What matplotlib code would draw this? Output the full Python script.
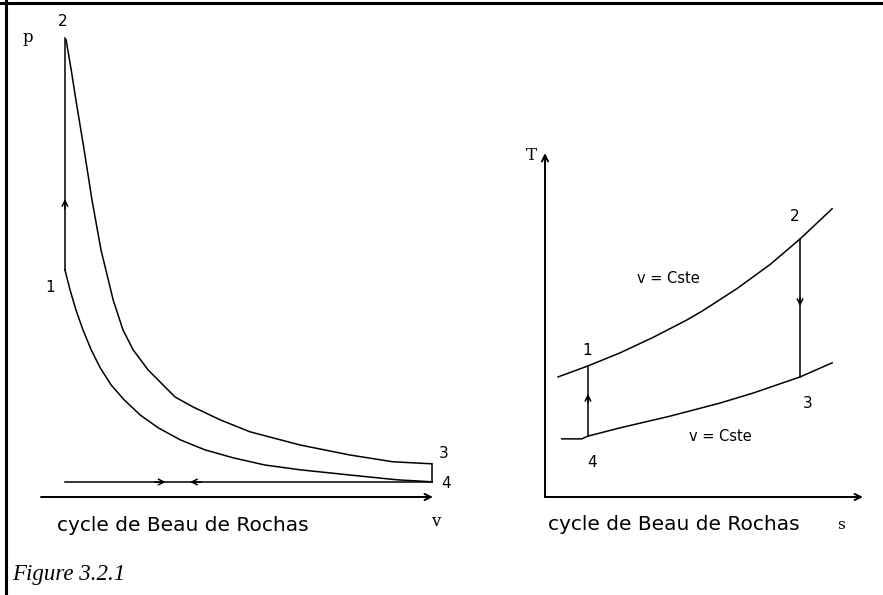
import matplotlib.pyplot as plt
from matplotlib.lines import Line2D

# --- p-v diagram (sketch units: v 0..10, p 0..12) ---
v_exp = [0.64, 0.77, 0.89, 1.10, 1.30, 1.53, 1.84, 2.09, 2.35, 2.73, 3.42,
         3.88, 4.57, 5.33, 6.61, 7.88, 8.98, 9.97]
p_exp = [11.43, 10.68, 9.93, 8.68, 7.43, 6.18, 4.93, 4.18, 3.68, 3.18, 2.50,
         2.25, 1.93, 1.63, 1.30, 1.05, 0.88, 0.83]
v_comp = [0.61, 0.74, 0.89, 1.07, 1.28, 1.51, 1.79, 2.12, 2.53, 2.99, 3.55,
          4.18, 4.90, 5.71, 6.61, 7.88, 9.08, 9.97]
p_comp = [5.68, 5.18, 4.68, 4.18, 3.68, 3.23, 2.80, 2.43, 2.05, 1.73, 1.43,
          1.18, 0.98, 0.80, 0.68, 0.55, 0.43, 0.38]
v_12 = [0.61, 0.61]
p_12 = [5.68, 11.48]
v_34 = [9.97, 9.97]
p_34 = [0.83, 0.38]
v_41 = [0.61, 9.97]
p_41 = [0.375, 0.375]

# --- T-s diagram (sketch units: s 0..10, T 0..10) ---
s_up = [0.41, 1.35, 2.36, 3.40, 4.47, 4.97, 6.04, 7.08, 8.02, 9.03]
T_up = [3.49, 3.81, 4.19, 4.64, 5.15, 5.42, 6.06, 6.76, 7.50, 8.38]
s_low = [0.53, 1.16, 1.35, 2.36, 3.93, 5.50, 6.54, 8.02, 9.03]
T_low = [1.69, 1.69, 1.77, 2.01, 2.35, 2.73, 3.02, 3.49, 3.90]
s_14 = [1.35, 1.35]
T_14 = [1.77, 3.81]
s_23 = [8.02, 8.02]
T_23 = [7.50, 3.49]

caption = 'cycle de Beau de Rochas'
W, H = 883, 595
lw = 1.1

fig = plt.figure(figsize=(W / 100, H / 100), dpi=100)

# frame of the scanned figure (top and left edges)
fig.add_artist(Line2D([0, 1], [1 - 2.5 / H, 1 - 2.5 / H], color='black', lw=2.2))
fig.add_artist(Line2D([6 / W, 6 / W], [0, 1], color='black', lw=2.2))

head = '->,head_length=0.45,head_width=0.22'
small = '->,head_length=0.4,head_width=0.2'


def axis_arrows(ax, xmax, ymax):
    ax.annotate('', xy=(xmax, 0), xytext=(0, 0),
                arrowprops=dict(arrowstyle=head, lw=1.4, color='black',
                                shrinkA=0, shrinkB=0))
    ax.annotate('', xy=(0, ymax), xytext=(0, 0),
                arrowprops=dict(arrowstyle=head, lw=1.4, color='black',
                                shrinkA=0, shrinkB=0))


def mid_arrow(ax, x0, y0, x1, y1):
    ax.annotate('', xy=(x1, y1), xytext=(x0, y0),
                arrowprops=dict(arrowstyle=small, lw=lw, color='black',
                                shrinkA=0, shrinkB=0))


# left: p-v
ax1 = fig.add_axes([41 / W, 98 / H, 392 / W, 480 / H])
ax1.set_xlim(0, 10)
ax1.set_ylim(0, 12)
ax1.axis('off')
axis_arrows(ax1, 10, 12.05)
ax1.plot(v_exp, p_exp, 'k-', lw=lw)
ax1.plot(v_comp, p_comp, 'k-', lw=lw)
ax1.plot(v_12, p_12, 'k-', lw=lw)
ax1.plot(v_34, p_34, 'k-', lw=lw)
ax1.plot(v_41, p_41, 'k-', lw=lw)
mid_arrow(ax1, 0.61, 7.2, 0.61, 7.45)
mid_arrow(ax1, 2.9, 0.375, 3.18, 0.375)
mid_arrow(ax1, 4.1, 0.375, 3.80, 0.375)
ax1.text(-0.33, 11.48, 'p', fontsize=12, family='DejaVu Serif', ha='center', va='center')
ax1.text(0.56, 11.9, '2', fontsize=11, ha='center', va='center')
ax1.text(0.23, 5.23, '1', fontsize=11, ha='center', va='center')
ax1.text(10.28, 1.08, '3', fontsize=11, ha='center', va='center')
ax1.text(10.33, 0.33, '4', fontsize=11, ha='center', va='center')
ax1.text(10.08, -0.62, 'v', fontsize=12, family='DejaVu Serif', ha='center', va='center')
ax1.text(0.41, -0.72, caption, fontsize=14.5, ha='left', va='center')

# right: T-s
ax2 = fig.add_axes([545 / W, 98 / H, 318 / W, 344 / H])
ax2.set_xlim(0, 10)
ax2.set_ylim(0, 10)
ax2.axis('off')
axis_arrows(ax2, 10, 10)
ax2.plot(s_up, T_up, 'k-', lw=lw)
ax2.plot(s_low, T_low, 'k-', lw=lw)
ax2.plot(s_14, T_14, 'k-', lw=lw)
ax2.plot(s_23, T_23, 'k-', lw=lw)
mid_arrow(ax2, 1.35, 2.75, 1.35, 3.0)
mid_arrow(ax2, 8.02, 5.8, 8.02, 5.55)
ax2.text(-0.44, 9.94, 'T', fontsize=12, family='DejaVu Serif', ha='center', va='center')
ax2.text(1.32, 4.25, '1', fontsize=11, ha='center', va='center')
ax2.text(7.86, 8.16, '2', fontsize=11, ha='center', va='center')
ax2.text(8.27, 2.73, '3', fontsize=11, ha='center', va='center')
ax2.text(1.48, 1.0, '4', fontsize=11, ha='center', va='center')
ax2.text(3.87, 6.34, 'v = Cste', fontsize=10.5, ha='center', va='center')
ax2.text(5.50, 1.77, 'v = Cste', fontsize=10.5, ha='center', va='center')
ax2.text(9.3, -0.81, 's', fontsize=11, family='DejaVu Serif', ha='center', va='center')
ax2.text(0.09, -0.81, caption, fontsize=14.5, ha='left', va='center')

fig.text(12 / W, 1 - 580 / H, 'Figure 3.2.1', fontsize=16.5, family='Liberation Serif',
         style='italic', ha='left', va='baseline')

fig.savefig('out.png', dpi=100)
